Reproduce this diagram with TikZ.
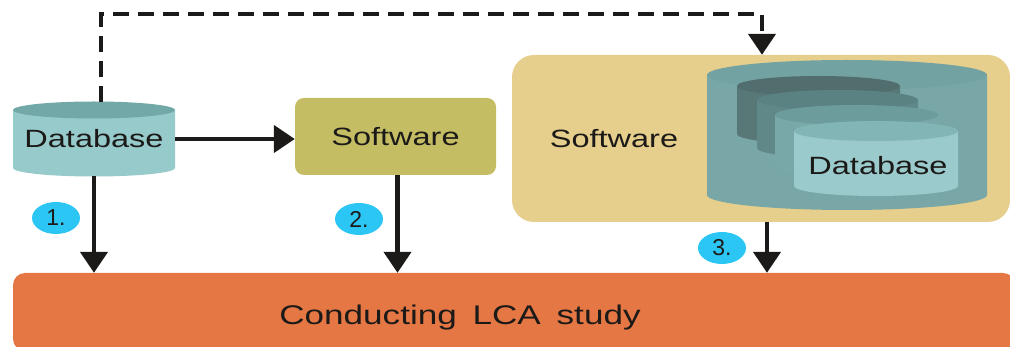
\documentclass[tikz,border=0pt]{standalone}
\usepackage{fontspec}
\usepackage{graphicx}
\setmainfont{Liberation Sans}
\usetikzlibrary{arrows.meta,shapes.geometric}
\definecolor{dbbody}{HTML}{96CACB}
\definecolor{dbtop}{HTML}{72A8A8}
\definecolor{swcol}{HTML}{C4BD63}
\definecolor{panelcol}{HTML}{E6CE8C}
\definecolor{bigcyl}{HTML}{79A7A7}
\definecolor{bigtop}{HTML}{73A2A2}
\definecolor{inA}{HTML}{587878}
\definecolor{inAtop}{HTML}{526D6D}
\definecolor{inB}{HTML}{608888}
\definecolor{inBtop}{HTML}{5A8282}
\definecolor{inC}{HTML}{78A8A8}
\definecolor{inCtop}{HTML}{6C9C9C}
\definecolor{inD}{HTML}{9ACACB}
\definecolor{inDtop}{HTML}{82B6B6}
\definecolor{badgecol}{HTML}{2CC6F5}
\definecolor{barcol}{HTML}{E57744}
\definecolor{ink}{HTML}{1C1A18}
% cylinder: x1 x2 ytopcenter ybotcenter ry bodycolour topcolour
\newcommand\mycyl[7]{%
  \fill[#6] (#1,#3) -- (#1,#4) arc[start angle=180,end angle=0,x radius={(#2-#1)/2},y radius=#5] -- (#2,#3) -- cycle;
  \fill[#7] ({(#1+#2)/2},#3) ellipse[x radius={(#2-#1)/2},y radius=#5];}
\newcommand\wide[1]{\scalebox{1.3}[1]{#1}}
\begin{document}
\begin{tikzpicture}[x=1pt,y=-1pt,
  lbl/.style={font=\fontsize{25}{30}\selectfont, text=ink, inner sep=0},
  badge/.style={ellipse, fill=badgecol, minimum width=48pt, minimum height=32pt, inner sep=0, font=\fontsize{23}{28}\selectfont, text=ink},
  flow/.style={draw=ink, line width=4.5pt, -{Triangle[width=27pt,length=21pt]}},
  dflow/.style={flow, dash pattern=on 16pt off 9pt},
  ghost/.style={inner sep=0, draw=none}]
\useasboundingbox (0,0) rectangle (1010,347);
% bottom bar
\node[ghost, fill=barcol, rounded corners=12pt, minimum width=1002pt, minimum height=78pt] (bar) at (514,312) {};
\node[lbl, font=\fontsize{27}{32}\selectfont] (bartext) at (460,318) {\wide{Conducting\hspace{0.45em}LCA\hspace{0.45em}study}};
% left database
\mycyl{13}{175}{110}{168}{8.5}{dbbody}{dbtop}
\node[ghost, minimum width=162pt, minimum height=74pt, lbl] (db1) at (94,139) {\wide{Database}};
% software box
\node[ghost, fill=swcol, rounded corners=9pt, minimum width=201pt, minimum height=77pt, lbl] (sw1) at (395.5,136.5) {\wide{Software}};
% panel
\node[ghost, fill=panelcol, rounded corners=22pt, minimum width=498pt, minimum height=167pt] (panel) at (761,138.5) {};
\node[lbl] (swlabel) at (614,139) {\wide{Software}};
% big cylinder with stacked ones
\mycyl{707}{987}{75}{195}{15}{bigcyl}{bigtop}
\mycyl{737}{900}{86}{134}{10}{inA}{inAtop}
\mycyl{757}{918}{100}{148}{10}{inB}{inBtop}
\mycyl{775}{938}{115}{167}{10}{inC}{inCtop}
\mycyl{794}{958}{131}{186}{10}{inD}{inDtop}
\node[lbl] (db2) at (878,166) {\wide{Database}};
% badges
\node[badge] (b1) at (56,218) {1.};
\node[badge] (b2) at (359,219) {2.};
\node[badge] (b3) at (722,248) {3.};
% connectors
\coordinate (ctop) at (762,14);
\coordinate (c3) at (767,0);
\draw[dflow] ([xshift=7pt]db1.north) |- (ctop) -- (ctop |- panel.north);
\draw[flow] (db1.east) -- (db1.east -| sw1.west);
\draw[flow] (db1.south) -- (db1.south |- bar.north);
\draw[flow] ([xshift=2pt]sw1.south) -- ([xshift=2pt]sw1.south |- bar.north);
\draw[flow] (panel.south -| c3) -- (bar.north -| c3);
\end{tikzpicture}
\end{document}
